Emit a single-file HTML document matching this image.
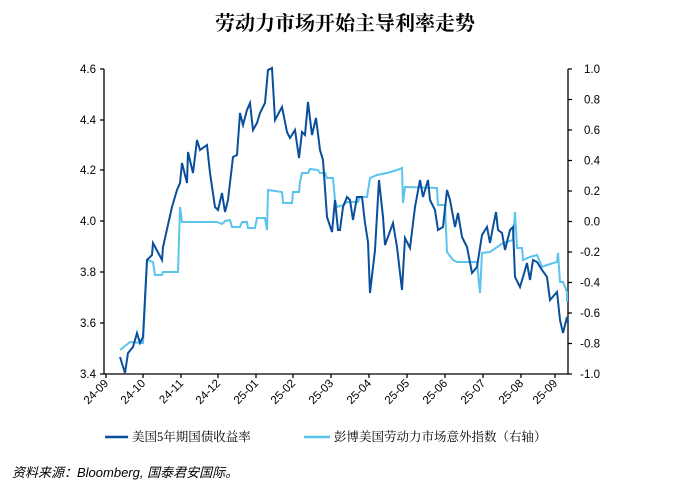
<!DOCTYPE html>
<html><head><meta charset="utf-8"><style>
body{margin:0;background:#fff;width:698px;height:495px;overflow:hidden}
svg text{font-family:"Liberation Sans","Noto Sans CJK SC",sans-serif}
</style></head><body>
<svg width="698" height="495" viewBox="0 0 698 495" xmlns="http://www.w3.org/2000/svg">
<text x="345" y="30" text-anchor="middle" font-size="20" font-weight="bold" style="font-family:'Noto Serif CJK SC','Noto Sans CJK SC',serif">劳动力市场开始主导利率走势</text>
<g stroke="#000" stroke-width="1.3" fill="none">
<line x1="104" y1="69" x2="104" y2="374"/>
<line x1="568" y1="69" x2="568" y2="374"/>
<line x1="104" y1="374" x2="568" y2="374"/>
<path d="M100 69h4M100 120h4M100 170h4M100 221h4M100 272h4M100 323h4M100 374h4"/>
<path d="M568 69h4M568 99.5h4M568 130h4M568 160.5h4M568 191h4M568 221.5h4M568 252h4M568 282.5h4M568 313h4M568 343.5h4M568 374h4"/>
<path d="M106 374v4M143 374v4M181 374v4M218 374v4M256 374v4M293 374v4M331 374v4M369 374v4M407 374v4M445 374v4M483 374v4M521 374v4M555 374v4"/>
</g>
<g font-size="11.5" text-anchor="end">
<text x="96" y="73">4.6</text><text x="96" y="124">4.4</text><text x="96" y="174">4.2</text><text x="96" y="225">4.0</text><text x="96" y="276">3.8</text><text x="96" y="327">3.6</text><text x="96" y="378">3.4</text>
</g>
<g font-size="11.5" text-anchor="end">
<text x="600" y="73">1.0</text><text x="600" y="103.5">0.8</text><text x="600" y="134">0.6</text><text x="600" y="164.5">0.4</text><text x="600" y="195">0.2</text><text x="600" y="225.5">0.0</text><text x="600" y="256">-0.2</text><text x="600" y="286.5">-0.4</text><text x="600" y="317">-0.6</text><text x="600" y="347.5">-0.8</text><text x="600" y="378">-1.0</text>
</g>
<g font-size="11.5" text-anchor="end">
<text transform="translate(109,384) rotate(-45)">24-09</text>
<text transform="translate(146,384) rotate(-45)">24-10</text>
<text transform="translate(184,384) rotate(-45)">24-11</text>
<text transform="translate(221,384) rotate(-45)">24-12</text>
<text transform="translate(259,384) rotate(-45)">25-01</text>
<text transform="translate(296,384) rotate(-45)">25-02</text>
<text transform="translate(334,384) rotate(-45)">25-03</text>
<text transform="translate(372,384) rotate(-45)">25-04</text>
<text transform="translate(410,384) rotate(-45)">25-05</text>
<text transform="translate(448,384) rotate(-45)">25-06</text>
<text transform="translate(486,384) rotate(-45)">25-07</text>
<text transform="translate(524,384) rotate(-45)">25-08</text>
<text transform="translate(558,384) rotate(-45)">25-09</text>
</g>
<polyline fill="none" stroke="#5bc4ee" stroke-width="2" points="120,350 130,342 143,343 147,260 153,262 155,275 162,275 163,272 178,272 180,207 182,222 217,222 222,224 225,221 230,220 232,227 240,227 242,222 247,222 248,228 255,228 257,218 265,218 267,230 268,190 282,192 283,203 292,203 293,192 299,192 300,182 302,173 308,173 310,169 318,170 320,173 325,173 327,178 333,178 335,200 337,207 343,205 347,202 358,202 360,197 367,197 370,178 377,175 387,173 397,170 402,168 403,203 405,187 437,188 438,205 445,205 447,252 453,260 457,262 477,262 480,293 482,253 490,252 503,243 513,240 515,212 517,248 522,248 523,260 530,257 537,255 542,267 547,265 557,262 558,253 560,282 563,282 567,292 567,302"/>
<polyline fill="none" stroke="#0a4f9c" stroke-width="2" points="120,357 125,373 128,353 133,347 137,333 140,343 143,337 147,260 152,255 153,243 162,260 163,247 172,207 177,190 180,183 182,163 187,183 188,152 193,173 197,140 200,150 207,145 210,173 215,207 218,210 222,193 225,212 228,200 233,157 237,155 240,113 243,125 247,110 250,103 253,130 257,123 260,113 265,103 268,70 272,68 275,120 282,107 287,132 290,138 295,130 299,158 302,132 305,135 308,102 312,135 316,118 320,150 323,160 327,217 332,232 335,200 338,230 340,230 343,207 347,197 350,200 353,220 357,197 362,197 365,223 368,242 370,293 375,250 379,180 383,217 385,245 393,223 397,247 402,290 405,238 410,248 415,207 420,180 423,197 428,180 430,200 435,210 438,230 443,227 447,190 450,200 455,227 458,213 462,237 467,247 472,273 477,267 482,235 487,227 490,243 493,227 496,212 498,230 502,233 505,250 510,230 513,227 515,277 520,287 523,277 527,263 530,280 533,260 537,262 542,270 547,277 550,300 557,292 560,320 563,333 567,317 568,323"/>
<line x1="105" y1="437" x2="128" y2="437" stroke="#0a4f9c" stroke-width="2.5"/>
<text x="132" y="441" font-size="12.5" style="font-family:'Liberation Serif','Noto Serif CJK SC',serif">美国5年期国债收益率</text>
<line x1="304" y1="437" x2="330" y2="437" stroke="#5bc4ee" stroke-width="2.5"/>
<text x="334" y="441" font-size="12.5" style="font-family:'Liberation Serif','Noto Serif CJK SC',serif">彭博美国劳动力市场意外指数（右轴）</text>
<text x="12" y="477" font-size="13" font-style="italic">资料来源：Bloomberg, 国泰君安国际。</text>
</svg>
</body></html>
